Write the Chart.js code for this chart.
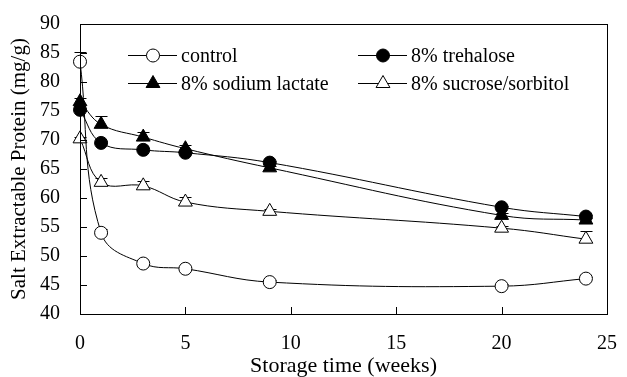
<!DOCTYPE html>
<html>
<head>
<meta charset="utf-8">
<script src="https://cdn.jsdelivr.net/npm/chart.js@4"></script>
<style>
  body { margin: 0; background: #fff; }
</style>
</head>
<body>
<canvas id="chart" width="627" height="377"></canvas>
<script>
// storage time in weeks
const weeks = [0, 1, 3, 5, 9, 20, 24];

// salt extractable protein (mg/g)
const control = [83.5, 54.0, 48.7, 47.8, 45.5, 44.8, 46.1];
const trehalose = [75.2, 69.5, 68.3, 67.8, 66.1, 58.4, 56.8];
const sodiumLactate = [76.6, 72.7, 70.5, 68.5, 65.2, 57.0, 56.2];
const sucroseSorbitol = [70.2, 62.7, 62.1, 59.3, 57.7, 54.8, 52.9];

// upper error bars (mg/g)
const errControl = [1.6, 0.6, 0.3, 0.3, 0.3, 0.3, 0.3];
const errTrehalose = [0.4, 0.3, 0.3, 0.3, 0.3, 0.3, 0.3];
const errSodiumLactate = [0.6, 1.5, 0.9, 0.6, 0.4, 0.5, 0.3];
const errSucroseSorbitol = [0.4, 0.8, 0.8, 0.9, 0.4, 0.3, 1.4];

const xTicks = [0, 5, 10, 15, 20, 25];
const yTicks = [40, 45, 50, 55, 60, 65, 70, 75, 80, 85, 90];

const FONT = '"Liberation Serif", "Times New Roman", serif';

function pts(ys) {
  return weeks.map((w, i) => ({ x: w, y: ys[i] }));
}

function series(label, ys, errs, style, fill, radius) {
  return {
    label: label,
    data: pts(ys),
    errors: errs,
    borderColor: '#000',
    borderWidth: 1,
    pointStyle: style,
    pointRadius: radius,
    pointBackgroundColor: fill,
    pointBorderColor: '#000',
    pointBorderWidth: 1,
    tension: 0.4,
    clip: false,
  };
}

// error bars, drawn under the markers
const errorBars = {
  id: 'errorBars',
  beforeDatasetsDraw(chart) {
    const { ctx, scales: { x, y } } = chart;
    ctx.save();
    ctx.strokeStyle = '#000';
    ctx.lineWidth = 1;
    chart.data.datasets.forEach(ds => {
      ds.data.forEach((p, i) => {
        const px = Math.round(x.getPixelForValue(p.x)) + 0.5;
        const y0 = y.getPixelForValue(p.y);
        const y1 = Math.round(y.getPixelForValue(p.y + ds.errors[i])) + 0.5;
        ctx.beginPath();
        ctx.moveTo(px, y0);
        ctx.lineTo(px, y1);
        ctx.moveTo(px - 6, y1);
        ctx.lineTo(px + 6, y1);
        ctx.stroke();
      });
    });
    ctx.restore();
  }
};

// frame, inward ticks and legend
const frame = {
  id: 'frame',
  afterDraw(chart) {
    const { ctx, chartArea: a, scales: { x, y } } = chart;
    ctx.save();
    ctx.strokeStyle = '#000';
    ctx.lineWidth = 1;
    ctx.strokeRect(Math.round(a.left) + 0.5, Math.round(a.top) + 0.5,
      Math.round(a.right - a.left), Math.round(a.bottom - a.top));
    ctx.beginPath();
    xTicks.forEach(v => {
      const px = Math.round(x.getPixelForValue(v)) + 0.5;
      ctx.moveTo(px, a.bottom);
      ctx.lineTo(px, a.bottom - 7);
    });
    yTicks.forEach(v => {
      const py = Math.round(y.getPixelForValue(v)) + 0.5;
      ctx.moveTo(a.left, py);
      ctx.lineTo(a.left + 7, py);
    });
    ctx.stroke();

    // legend, two columns
    const cols = [128, 358];
    const rows = [55, 83];
    ctx.font = '20px ' + FONT;
    ctx.textBaseline = 'middle';
    chart.data.datasets.forEach((ds, k) => {
      const lx = cols[k % 2];
      const ly = rows[Math.floor(k / 2)] + 0.5;
      ctx.beginPath();
      ctx.moveTo(lx, ly);
      ctx.lineTo(lx + 49, ly);
      ctx.stroke();
      ctx.fillStyle = ds.pointBackgroundColor;
      Chart.helpers.drawPoint(ctx, {
        pointStyle: ds.pointStyle, radius: ds.pointRadius, rotation: 0, borderWidth: 1
      }, lx + 25, ly);
      ctx.fillStyle = '#000';
      ctx.fillText(ds.label, lx + 53, ly + 1);
    });
    ctx.restore();
  }
};

new Chart(document.getElementById('chart'), {
  type: 'line',
  data: {
    datasets: [
      series('control', control, errControl, 'circle', '#fff', 6.5),
      series('8% trehalose', trehalose, errTrehalose, 'circle', '#000', 6.5),
      series('8% sodium lactate', sodiumLactate, errSodiumLactate, 'triangle', '#000', 8),
      series('8% sucrose/sorbitol', sucroseSorbitol, errSucroseSorbitol, 'triangle', '#fff', 8),
    ],
  },
  options: {
    responsive: false,
    animation: false,
    layout: { padding: { top: 22, right: 11, left: 0, bottom: 0 } },
    plugins: {
      legend: { display: false },
      tooltip: { enabled: false },
    },
    scales: {
      x: {
        type: 'linear',
        min: 0,
        max: 25,
        afterFit: s => { s.height = 63; },
        afterBuildTicks: s => { s.ticks = xTicks.map(v => ({ value: v })); },
        grid: { display: false },
        border: { display: false },
        ticks: { color: '#000', font: { family: FONT, size: 20 }, padding: 10, maxRotation: 0 },
        title: {
          display: true,
          text: 'Storage time (weeks)',
          color: '#000',
          font: { family: FONT, size: 22, lineHeight: 1 },
          padding: { top: 0, bottom: 0 },
        },
      },
      y: {
        min: 40,
        max: 90,
        afterFit: s => { s.width = 80; },
        afterBuildTicks: s => { s.ticks = yTicks.map(v => ({ value: v })); },
        grid: { display: false },
        border: { display: false },
        ticks: { color: '#000', font: { family: FONT, size: 20 }, padding: 12 },
        title: {
          display: true,
          text: 'Salt Extractable Protein (mg/g)',
          color: '#000',
          font: { family: FONT, size: 21, lineHeight: 1 },
          padding: { top: 9, bottom: 0 },
        },
      },
    },
  },
  plugins: [errorBars, frame],
});
</script>
</body>
</html>
